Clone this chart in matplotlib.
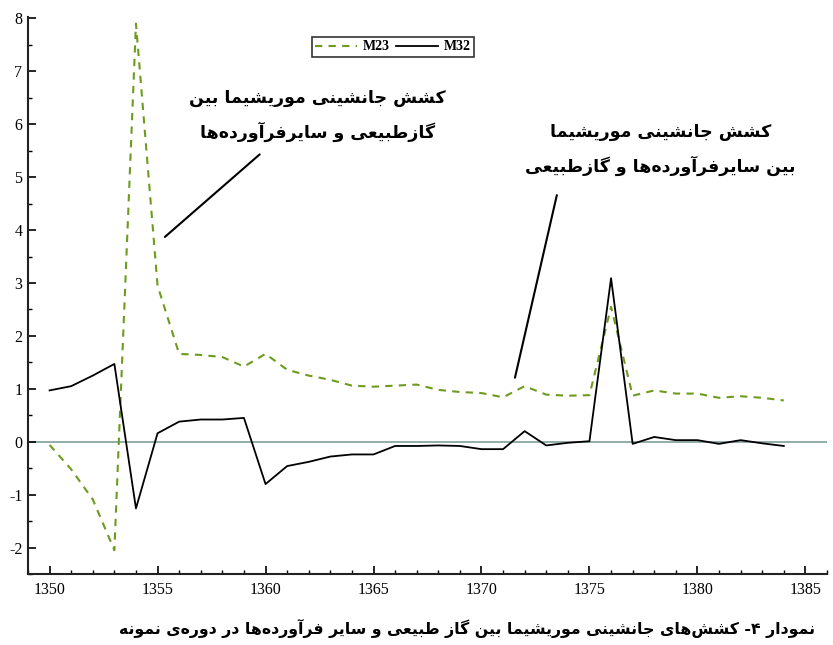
import numpy as np
import matplotlib
matplotlib.use("Agg")
import matplotlib.pyplot as plt
from matplotlib.ticker import MultipleLocator

plt.rcParams["axes.unicode_minus"] = False

years = list(range(1350, 1385))
m23 = [-0.06, -0.52, -1.09, -2.05, 7.9, 2.95, 1.66, 1.64, 1.6, 1.42,
       1.66, 1.36, 1.25, 1.17, 1.06, 1.04, 1.06, 1.08, 0.98, 0.94,
       0.92, 0.84, 1.05, 0.89, 0.87, 0.88, 2.55, 0.87, 0.97, 0.91,
       0.91, 0.83, 0.86, 0.83, 0.78]
m32 = [0.97, 1.05, 1.25, 1.47, -1.26, 0.16, 0.38, 0.42, 0.42, 0.45,
       -0.8, -0.46, -0.38, -0.28, -0.24, -0.24, -0.08, -0.08, -0.07, -0.08,
       -0.14, -0.14, 0.2, -0.07, -0.02, 0.01, 3.09, -0.04, 0.09, 0.03,
       0.03, -0.04, 0.03, -0.03, -0.08]

note1 = "کشش جانشینی موریشیما بین\nگازطبیعی و سایرفرآورده\u200cها"
note2 = "کشش جانشینی موریشیما\nبین سایرفرآورده\u200cها و گازطبیعی"
caption = "نمودار ۴- کشش\u200cهای جانشینی موریشیما بین گاز طبیعی و سایر فرآورده\u200cها در دوره\u200cی نمونه"

# presentation forms: isolated, final, initial, medial
FORMS = {
    '\u0627': ('\uFE8D', '\uFE8E', None, None),
    '\u0622': ('\uFE81', '\uFE82', None, None),
    '\u0628': ('\uFE8F', '\uFE90', '\uFE91', '\uFE92'),
    '\u062C': ('\uFE9D', '\uFE9E', '\uFE9F', '\uFEA0'),
    '\u062F': ('\uFEA9', '\uFEAA', None, None),
    '\u0631': ('\uFEAD', '\uFEAE', None, None),
    '\u0632': ('\uFEAF', '\uFEB0', None, None),
    '\u0633': ('\uFEB1', '\uFEB2', '\uFEB3', '\uFEB4'),
    '\u0634': ('\uFEB5', '\uFEB6', '\uFEB7', '\uFEB8'),
    '\u0637': ('\uFEC1', '\uFEC2', '\uFEC3', '\uFEC4'),
    '\u0639': ('\uFEC9', '\uFECA', '\uFECB', '\uFECC'),
    '\u0641': ('\uFED1', '\uFED2', '\uFED3', '\uFED4'),
    '\u0645': ('\uFEE1', '\uFEE2', '\uFEE3', '\uFEE4'),
    '\u0646': ('\uFEE5', '\uFEE6', '\uFEE7', '\uFEE8'),
    '\u0647': ('\uFEE9', '\uFEEA', '\uFEEB', '\uFEEC'),
    '\u0648': ('\uFEED', '\uFEEE', None, None),
    '\u06CC': ('\uFBFC', '\uFBFD', '\uFBFE', '\uFBFF'),
    '\u06A9': ('\uFB8E', '\uFB8F', '\uFB90', '\uFB91'),
    '\u06AF': ('\uFB92', '\uFB93', '\uFB94', '\uFB95'),
}


def shape_line(text):
    out = []
    for i, ch in enumerate(text):
        if ch not in FORMS:
            out.append(ch)
            continue
        prev = text[i - 1] if i > 0 else ''
        nxt = text[i + 1] if i + 1 < len(text) else ''
        join_prev = prev in FORMS and FORMS[prev][2] is not None
        join_next = nxt in FORMS and FORMS[ch][2] is not None
        iso, fin, ini, med = FORMS[ch]
        if join_prev and join_next:
            out.append(med)
        elif join_prev:
            out.append(fin)
        elif join_next:
            out.append(ini)
        else:
            out.append(iso)
    s = ''.join(c for c in out if c != '\u200c')
    return s[::-1]


def fa(text):
    return "\n".join(shape_line(l) for l in text.split("\n"))


fig = plt.figure(figsize=(8.33, 6.45), dpi=100)
ax = fig.add_axes([0.0336, 0.110, 0.9592, 0.864])

ax.axhline(0, color="#7f9e9e", lw=1.2, zorder=1)
l1, = ax.plot(years, m23, color="#6e9b1e", lw=1.5, ls=(0, (3.5, 3)), label="M23", zorder=3)
l2, = ax.plot(years, m32, color="black", lw=1.3, label="M32", zorder=4)

ax.set_xlim(1349, 1386)
ax.set_ylim(-2.5, 8.03)
ax.xaxis.set_major_locator(MultipleLocator(5))
ax.xaxis.set_minor_locator(MultipleLocator(1))
ax.yaxis.set_major_locator(MultipleLocator(1))
ax.yaxis.set_minor_locator(MultipleLocator(0.5))
ax.tick_params(which="major", direction="in", length=6, width=1.2, labelsize=11.5, pad=6)
ax.tick_params(which="minor", direction="in", length=3, width=1)
ax.tick_params(axis="y", pad=4)
for lab in ax.get_xticklabels() + ax.get_yticklabels():
    lab.set_family("Liberation Serif")
for s in ["top", "right"]:
    ax.spines[s].set_visible(False)
for s in ["left", "bottom"]:
    ax.spines[s].set_linewidth(1.5)
    ax.spines[s].set_color("#222222")

leg = fig.legend(handles=[l1, l2], ncol=2, loc="center",
                 prop={"family": "Liberation Serif", "weight": "bold", "size": 10},
                 frameon=True, fancybox=False, handlelength=3.0,
                 handletextpad=0.4, columnspacing=0.5, borderpad=0.25,
                 borderaxespad=0)
leg.set_bbox_to_anchor((393 / 833, 1 - 47 / 645), transform=fig.transFigure)
leg.get_frame().set_edgecolor("black")
leg.get_frame().set_linewidth(1.2)

txt = dict(family="DejaVu Sans", weight="bold", fontsize=12.5, ha="center",
           va="center", linespacing=1.9)
ax.text(1362.4, 6.16, fa(note1), **txt)
ax.text(1378.3, 5.52, fa(note2), **txt)
line = dict(arrowstyle="-", lw=1.5, color="black", shrinkA=0, shrinkB=0)
ax.annotate("", xy=(1355.34, 3.87), xytext=(1359.73, 5.43), arrowprops=line)
ax.annotate("", xy=(1371.55, 1.21), xytext=(1373.49, 4.66), arrowprops=line)

fig.text(467 / 833, 1 - 628 / 645, fa(caption), family="DejaVu Sans",
         weight="bold", fontsize=11.3, ha="center", va="center")

fig.savefig("out.png", dpi=100)
